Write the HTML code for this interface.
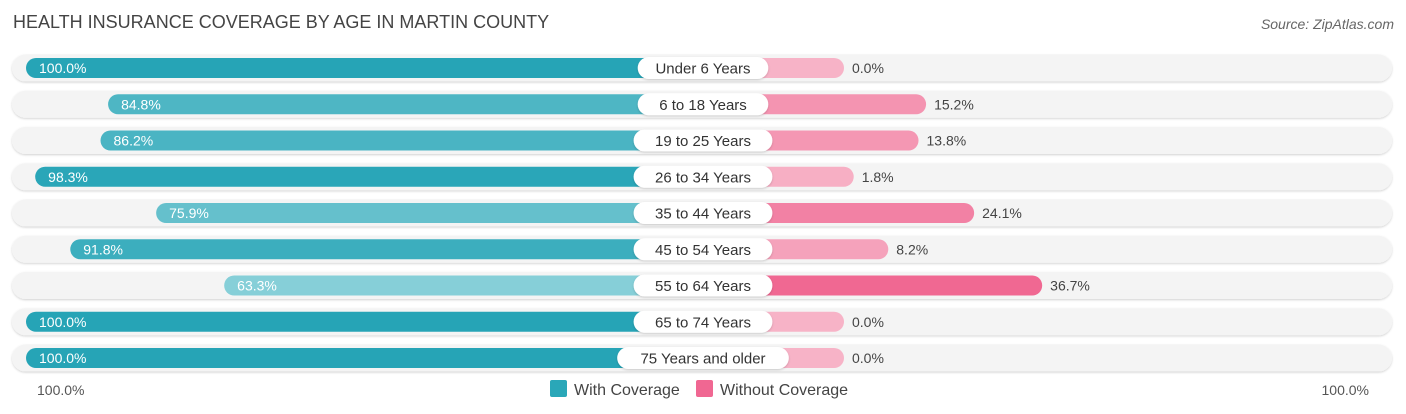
<!DOCTYPE html>
<html><head><meta charset="utf-8"><style>
body{margin:0;background:#fff;font-family:"Liberation Sans",sans-serif;}
svg{display:block}
</style></head><body>
<svg id="chart" width="1406" height="414" xmlns="http://www.w3.org/2000/svg">
<defs><filter id="sh" x="-5%" y="-30%" width="110%" height="160%"><feDropShadow dx="0" dy="1" stdDeviation="1" flood-color="#000" flood-opacity="0.18"/></filter></defs>
<text x="13" y="28" font-size="18" fill="#444">HEALTH INSURANCE COVERAGE BY AGE IN MARTIN COUNTY</text>
<text x="1394" y="29" font-size="14" fill="#666" font-style="italic" text-anchor="end">Source: ZipAtlas.com</text>
<g id="rows"></g>
<text x="37" y="395" font-size="14" fill="#555">100.0%</text>
<text x="1369" y="395" font-size="14" fill="#555" text-anchor="end">100.0%</text>
<g>
<rect x="550" y="380" width="17" height="17" rx="2" fill="#2aa7b8"/>
<text x="574" y="395" font-size="16" fill="#444">With Coverage</text>
<rect x="696" y="380" width="17" height="17" rx="2" fill="#f06792"/>
<text x="720" y="395" font-size="16" fill="#444">Without Coverage</text>
</g>
</svg>
<script>
const categories=["Under 6 Years","6 to 18 Years","19 to 25 Years","26 to 34 Years","35 to 44 Years","45 to 54 Years","55 to 64 Years","65 to 74 Years","75 Years and older"];
const withCoverage=[100.0,84.8,86.2,98.3,75.9,91.8,63.3,100.0,100.0];
const withoutCoverage=[0.0,15.2,13.8,1.8,24.1,8.2,36.7,0.0,0.0];
const NS="http://www.w3.org/2000/svg";
const cx=705,base=139,scale=5.4,y0=68,step=36.25,bh=20;
function xL(v){return cx-base-v*scale;}
function xR(v){return cx+base+v*scale;}
function mix(a,b,t){const p=s=>[1,3,5].map(i=>parseInt(s.substr(i,2),16));const A=p(a),B=p(b);return"rgb("+A.map((x,i)=>Math.round(x+(B[i]-x)*t)).join(",")+")";}
function mk(tag,attrs,parent){const e=document.createElementNS(NS,tag);for(const k in attrs)e.setAttribute(k,attrs[k]);parent.appendChild(e);return e;}
const rows=document.getElementById("rows");
categories.forEach((c,i)=>{
 const y=y0+i*step;
 const g=mk("g",{},rows);
 
 
 const bg=mk("rect",{x:12,y:y-13.5,width:1380,height:27,rx:13.5,fill:"#f4f4f4",filter:"url(#sh)"},g);
 
 
 const w=withCoverage[i],wo=withoutCoverage[i];
 const tw=Math.min(1,Math.max(0,(w-60)/40));
 const lb=mk("rect",{x:xL(w),y:y-bh/2,width:cx-xL(w),height:bh,rx:10,fill:mix("#8fd3db","#26a4b6",tw)},g);
 
 
 const tp=Math.min(1,wo/37);
 const rb=mk("rect",{x:cx,y:y-bh/2,width:xR(wo)-cx,height:bh,rx:10,fill:mix("#f7b3c7","#f06792",tp)},g);
 
 
 const t1=mk("text",{x:xL(w)+13,y:y+5,"font-size":14,fill:"#fff"},g);
 t1.textContent=w.toFixed(1)+"%";
 
 
 const t2=mk("text",{x:xR(wo)+8,y:y+5,"font-size":14,fill:"#444"},g);
 t2.textContent=wo.toFixed(1)+"%";
 
 
 const lw=c.length*8.2+24;
 const pill=mk("rect",{x:703-lw/2,y:y-11,width:lw,height:22,rx:11,fill:"#fff",filter:"url(#sh)"},g);
 
 
 const lt=mk("text",{x:703,y:y+5.5,"font-size":15,fill:"#333","text-anchor":"middle"},g);
 lt.textContent=c;
 
 
});
</script>
</body></html>
